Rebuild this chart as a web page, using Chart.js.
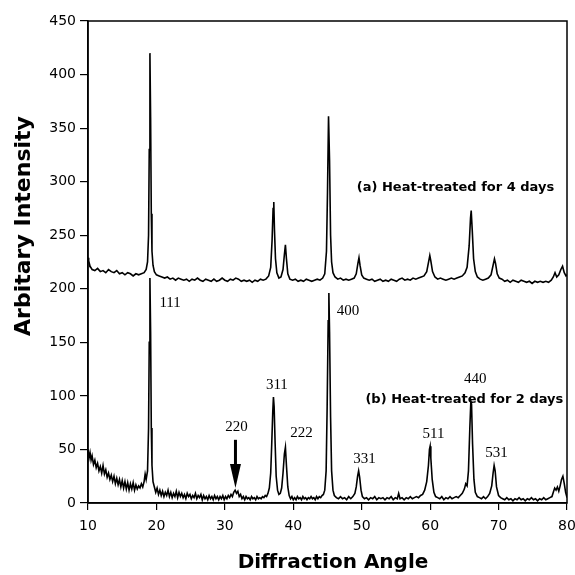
<!DOCTYPE html>
<html>
<head>
<meta charset="utf-8">
<script src="https://cdn.jsdelivr.net/npm/chart.js@4/dist/chart.umd.min.js"></script>
<style>
  html, body { margin: 0; padding: 0; background: #fff; }
  #wrap { width: 575px; height: 575px; }
</style>
</head>
<body>
<div id="wrap"><canvas id="xrdChart" width="575" height="575"></canvas></div>
<script>
const scan4days = [
  [10.0,229],[10.1,226],[10.3,221],[10.6,218],[11.0,217],[11.4,219],[11.8,216],[12.2,217],[12.6,215],[13.0,218],
  [13.4,216],[13.8,215],[14.2,217],[14.6,214],[15.0,215],[15.4,213],[15.8,215],[16.2,214],[16.6,212],[17.0,214],
  [17.4,213],[17.8,214],[18.2,215],[18.5,218],[18.7,225],[18.85,250],[18.95,330],[19.05,420],[19.15,360],[19.25,270],
  [19.35,235],[19.5,222],[19.7,216],[20.0,213],[20.4,212],[20.8,211],[21.2,210],[21.6,211],[22.0,209],[22.4,210],
  [22.8,208],[23.2,210],[23.6,209],[24.0,208],[24.4,209],[24.8,207],[25.2,209],[25.6,208],[26.0,210],[26.4,208],
  [26.8,207],[27.2,209],[27.6,208],[28.0,207],[28.4,209],[28.8,207],[29.2,208],[29.6,210],[30.0,208],[30.4,207],
  [30.8,209],[31.2,208],[31.6,210],[32.0,209],[32.4,207],[32.8,208],[33.2,207],[33.6,208],[34.0,206],[34.4,208],
  [34.8,207],[35.2,209],[35.6,208],[36.0,209],[36.4,212],[36.7,220],[36.9,245],[37.05,275],[37.15,281],[37.25,255],
  [37.4,228],[37.6,215],[37.9,210],[38.2,211],[38.5,218],[38.7,232],[38.85,241],[39.0,228],[39.2,214],[39.5,209],
  [39.9,208],[40.3,209],[40.7,207],[41.1,208],[41.5,207],[41.9,209],[42.3,208],[42.7,207],[43.1,208],[43.5,209],
  [43.9,208],[44.3,210],[44.6,214],[44.85,235],[45.0,290],[45.15,361],[45.3,320],[45.45,250],[45.6,225],[45.8,215],
  [46.1,211],[46.5,209],[46.9,210],[47.3,208],[47.7,209],[48.1,208],[48.5,209],[48.9,210],[49.2,214],[49.45,224],
  [49.6,229],[49.75,222],[50.0,213],[50.3,210],[50.7,209],[51.1,208],[51.5,209],[51.9,207],[52.3,208],[52.7,209],
  [53.1,207],[53.5,208],[53.9,207],[54.3,209],[54.7,208],[55.1,207],[55.5,209],[55.9,210],[56.3,208],[56.7,209],
  [57.1,208],[57.5,210],[57.9,209],[58.3,210],[58.7,211],[59.1,212],[59.5,216],[59.8,226],[59.95,231],[60.1,226],
  [60.35,216],[60.7,211],[61.1,209],[61.5,210],[61.9,209],[62.3,208],[62.7,209],[63.1,210],[63.5,209],[63.9,210],
  [64.3,211],[64.7,212],[65.1,215],[65.4,220],[65.7,240],[65.9,266],[66.0,273],[66.15,255],[66.35,228],[66.6,216],
  [66.9,211],[67.3,209],[67.7,208],[68.1,209],[68.5,210],[68.9,213],[69.2,222],[69.4,228],[69.55,224],[69.8,214],
  [70.1,210],[70.5,209],[70.9,207],[71.3,208],[71.7,206],[72.1,208],[72.5,207],[72.9,206],[73.3,208],[73.7,207],
  [74.1,206],[74.5,207],[74.9,205],[75.3,207],[75.7,206],[76.1,207],[76.5,206],[76.9,207],[77.3,206],[77.7,208],
  [78.0,211],[78.25,215],[78.5,211],[78.8,213],[79.1,218],[79.35,221],[79.6,215],[79.85,212],[80.0,213]
];

const scan2days = [
  [10.0,50],[10.15,42],[10.3,47],[10.45,40],[10.6,44],[10.8,36],[11.0,40],[11.2,33],[11.4,37],[11.6,30],
  [11.8,34],[12.0,28],[12.2,35],[12.4,27],[12.6,31],[12.8,24],[13.0,28],[13.2,22],[13.4,26],[13.6,20],
  [13.8,25],[14.0,18],[14.2,23],[14.4,17],[14.6,22],[14.8,15],[15.0,21],[15.2,14],[15.4,20],[15.6,13],
  [15.8,19],[16.0,12],[16.2,18],[16.4,13],[16.6,19],[16.8,12],[17.0,17],[17.2,13],[17.4,16],[17.6,14],
  [17.8,18],[18.0,15],[18.2,20],[18.35,27],[18.5,22],[18.7,30],[18.85,70],[18.95,150],[19.05,210],[19.15,160],
  [19.25,70],[19.35,35],[19.5,20],[19.7,15],[19.9,10],[20.1,14],[20.3,8],[20.5,12],[20.7,7],[20.9,11],
  [21.1,6],[21.3,10],[21.5,7],[21.7,12],[21.9,6],[22.1,10],[22.3,5],[22.5,9],[22.7,6],[22.9,11],
  [23.1,5],[23.3,10],[23.5,6],[23.7,9],[23.9,5],[24.1,8],[24.3,4],[24.5,9],[24.7,6],[24.9,8],
  [25.1,4],[25.3,7],[25.5,5],[25.7,9],[25.9,4],[26.1,7],[26.3,5],[26.5,8],[26.7,3],[26.9,7],
  [27.1,4],[27.3,6],[27.5,3],[27.7,7],[27.9,4],[28.1,6],[28.3,3],[28.5,7],[28.7,4],[28.9,6],
  [29.1,3],[29.3,6],[29.5,4],[29.7,7],[29.9,3],[30.1,6],[30.3,4],[30.5,7],[30.7,5],[30.9,8],
  [31.1,6],[31.3,10],[31.5,12],[31.7,9],[31.9,11],[32.1,6],[32.3,8],[32.5,4],[32.7,6],[32.9,3],
  [33.1,6],[33.3,4],[33.5,5],[33.7,3],[33.9,6],[34.1,4],[34.3,5],[34.5,3],[34.7,6],[34.9,4],
  [35.1,5],[35.3,4],[35.5,6],[35.7,5],[35.9,7],[36.1,6],[36.3,9],[36.5,14],[36.7,28],[36.85,55],
  [37.0,85],[37.1,99],[37.2,90],[37.35,55],[37.5,25],[37.7,12],[37.9,8],[38.1,9],[38.3,14],[38.5,28],
  [38.7,46],[38.85,52],[39.0,35],[39.2,15],[39.4,7],[39.6,4],[39.8,6],[40.0,3],[40.2,5],[40.4,3],
  [40.6,6],[40.8,4],[41.0,5],[41.2,3],[41.4,6],[41.6,4],[41.8,5],[42.0,3],[42.2,5],[42.4,4],
  [42.6,6],[42.8,4],[43.0,5],[43.2,3],[43.4,6],[43.6,4],[43.8,6],[44.0,5],[44.2,7],[44.4,8],
  [44.6,12],[44.8,30],[44.95,90],[45.1,170],[45.2,196],[45.3,160],[45.45,80],[45.6,30],[45.8,12],[46.0,7],
  [46.3,5],[46.6,4],[46.9,6],[47.2,4],[47.5,5],[47.8,3],[48.1,6],[48.4,4],[48.7,6],[49.0,9],
  [49.2,15],[49.4,25],[49.55,30],[49.7,24],[49.9,12],[50.1,6],[50.4,4],[50.7,5],[51.0,3],[51.3,5],
  [51.6,4],[51.9,6],[52.2,3],[52.5,5],[52.8,4],[53.1,5],[53.4,3],[53.7,5],[54.0,4],[54.3,6],
  [54.6,3],[54.9,5],[55.2,4],[55.4,9],[55.6,4],[55.9,5],[56.2,3],[56.5,5],[56.8,4],[57.1,6],
  [57.4,4],[57.7,5],[58.0,6],[58.3,5],[58.6,7],[58.9,8],[59.2,12],[59.5,20],[59.75,35],[59.9,50],
  [60.0,53],[60.1,42],[60.3,22],[60.55,10],[60.8,6],[61.1,5],[61.4,4],[61.7,6],[62.0,3],[62.3,5],
  [62.6,4],[62.9,6],[63.2,4],[63.5,5],[63.8,6],[64.1,5],[64.4,7],[64.7,9],[65.0,13],[65.2,18],
  [65.4,16],[65.6,30],[65.8,70],[65.95,95],[66.05,92],[66.2,55],[66.4,22],[66.6,10],[66.9,6],[67.2,5],
  [67.5,4],[67.8,6],[68.1,4],[68.4,6],[68.7,9],[69.0,16],[69.2,28],[69.35,35],[69.5,30],[69.7,15],
  [70.0,7],[70.3,5],[70.6,4],[70.9,3],[71.2,5],[71.5,3],[71.8,4],[72.1,2],[72.4,4],[72.7,3],
  [73.0,5],[73.3,3],[73.6,4],[73.9,2],[74.2,4],[74.5,3],[74.8,5],[75.1,3],[75.4,4],[75.7,2],
  [76.0,4],[76.3,3],[76.6,5],[76.9,3],[77.2,4],[77.5,5],[77.8,6],[78.0,10],[78.2,14],[78.4,12],
  [78.6,15],[78.8,11],[79.0,16],[79.2,22],[79.4,25],[79.6,18],[79.8,10],[80.0,5]
];

// hkl labels of the peaks, and where they are written (angle, intensity)
const hklLabels = ["111", "220", "311", "222", "400", "331", "511", "440", "531"];
const hklAt = [[22.0,187],[31.7,71],[37.6,110],[41.2,65],[48.0,179.5],[50.4,41],[60.5,64.4],[66.6,116],[69.7,47]];

const seriesNames = ["(a) Heat-treated for 4 days", "(b) Heat-treated for 2 days"];
const seriesNameAt = [[63.7,294],[65.0,96.2]];

// arrow pointing at the weak 220 reflection: angle, from, to
const arrow220 = [31.55, 59, 14];

const xTicks = [10, 20, 30, 40, 50, 60, 70, 80];
const yTicks = [0, 50, 100, 150, 200, 250, 300, 350, 400, 450];
const xTitle = "Diffraction Angle";
const yTitle = "Arbitary Intensity";

const toXY = (pts) => pts.map(p => ({ x: p[0], y: p[1] }));

const annotations = {
  id: "annotations",
  afterDatasetsDraw(chart) {
    const { ctx, chartArea, scales: { x, y } } = chart;
    ctx.save();

    // frame around the plot
    ctx.strokeStyle = "#000";
    ctx.lineWidth = 1.5;
    ctx.strokeRect(chartArea.left, chartArea.top, chartArea.right - chartArea.left, chartArea.bottom - chartArea.top);

    ctx.fillStyle = "#000";
    ctx.textAlign = "center";
    ctx.textBaseline = "middle";

    ctx.font = "15px 'Liberation Serif', 'Times New Roman', serif";
    hklLabels.forEach((t, i) => {
      ctx.fillText(t, x.getPixelForValue(hklAt[i][0]), y.getPixelForValue(hklAt[i][1]));
    });

    ctx.font = "bold 13px 'DejaVu Sans', sans-serif";
    seriesNames.forEach((t, i) => {
      ctx.fillText(t, x.getPixelForValue(seriesNameAt[i][0]), y.getPixelForValue(seriesNameAt[i][1]));
    });

    // axis titles (the originals sit a bit off-centre)
    ctx.font = "bold 20px 'DejaVu Sans', sans-serif";
    ctx.fillText(xTitle, 333, 563);
    ctx.save();
    ctx.translate(24, 226);
    ctx.rotate(-Math.PI / 2);
    ctx.font = "bold 22px 'DejaVu Sans', sans-serif";
    ctx.fillText(yTitle, 0, 0);
    ctx.restore();

    // arrow
    const ax = x.getPixelForValue(arrow220[0]);
    const y0 = y.getPixelForValue(arrow220[1]);
    const y1 = y.getPixelForValue(arrow220[2]);
    const headLen = 24;
    ctx.lineWidth = 3;
    ctx.beginPath();
    ctx.moveTo(ax, y0);
    ctx.lineTo(ax, y1 - headLen + 2);
    ctx.stroke();
    ctx.beginPath();
    ctx.moveTo(ax - 5.5, y1 - headLen);
    ctx.lineTo(ax + 5.5, y1 - headLen);
    ctx.lineTo(ax, y1);
    ctx.closePath();
    ctx.fill();

    ctx.restore();
  }
};

const config = {
  type: "line",
  data: {
    datasets: [
      {
        label: seriesNames[0],
        data: toXY(scan4days),
        borderColor: "#000000",
        borderWidth: 1.6,
        pointRadius: 0,
        fill: false,
        tension: 0,
      },
      {
        label: seriesNames[1],
        data: toXY(scan2days),
        borderColor: "#000000",
        borderWidth: 1.6,
        pointRadius: 0,
        fill: false,
        tension: 0,
      },
    ],
  },
  options: {
    responsive: false,
    animation: false,
    layout: {
      padding: { top: 21, right: 8, left: 0, bottom: 0 }
    },
    plugins: {
      legend: { display: false },
      tooltip: { enabled: false },
    },
    scales: {
      x: {
        type: "linear",
        min: 10,
        max: 80,
        afterBuildTicks: (axis) => { axis.ticks = xTicks.map(v => ({ value: v })); },
        afterFit: (axis) => {
          axis.height = 72;
          axis.paddingLeft = 0;
          axis.paddingRight = 0;
        },
        grid: { drawOnChartArea: false, color: "#000", tickLength: 7, lineWidth: 1.2 },
        border: { display: true, color: "#000", width: 1.5 },
        ticks: {
          color: "#000",
          padding: 8,
          maxRotation: 0,
          font: { family: "'DejaVu Sans', sans-serif", size: 14 },
        },
        title: { display: false, text: xTitle },
      },
      y: {
        type: "linear",
        min: 0,
        max: 450,
        afterBuildTicks: (axis) => { axis.ticks = yTicks.map(v => ({ value: v })); },
        afterFit: (axis) => {
          axis.width = 88;
          axis.paddingTop = 0;
          axis.paddingBottom = 0;
        },
        grid: { drawOnChartArea: false, color: "#000", tickLength: 8, lineWidth: 1.2 },
        border: { display: true, color: "#000", width: 1.5 },
        ticks: {
          color: "#000",
          padding: 4,
          font: { family: "'DejaVu Sans', sans-serif", size: 14 },
        },
        title: { display: false, text: yTitle },
      },
    },
  },
  plugins: [annotations],
};

new Chart(document.getElementById("xrdChart"), config);
</script>
</body>
</html>
